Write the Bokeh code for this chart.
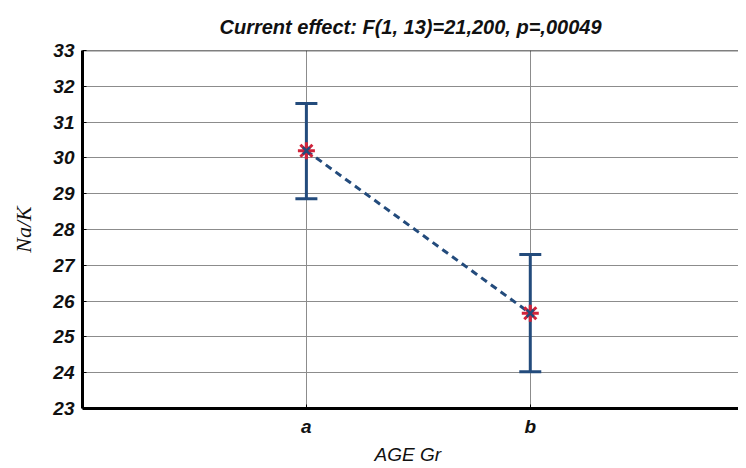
from bokeh.plotting import figure
from bokeh.models import ColumnDataSource, Whisker, TeeHead, FixedTicker, Span
from bokeh.embed import file_html
from bokeh.resources import INLINE

title_text = "Current effect: F(1, 13)=21,200, p=,00049"
groups = ["a", "b"]
means = [30.2, 25.66]
upper = [31.52, 27.3]
lower = [28.86, 24.03]
y_ticks = [23, 24, 25, 26, 27, 28, 29, 30, 31, 32, 33]

xpos = [i + 1 for i in range(len(groups))]
src = ColumnDataSource(dict(x=xpos, m=means, up=upper, lo=lower))

BLUE = "#234b7c"
RED = "#d2233a"

p = figure(width=738, height=467, output_backend="svg", toolbar_location=None,
           x_range=(0, 2.93), y_range=(23, 33),
           min_border_left=82, min_border_right=0, min_border_top=50, min_border_bottom=57)

p.title.text = title_text
p.title.text_font = "Liberation Sans"
p.title.text_font_style = "bold italic"
p.title.text_font_size = "20px"
p.title.align = "center"
p.title.text_color = "#111111"
p.title.standoff = 25

p.outline_line_color = None
p.background_fill_color = "white"
p.border_fill_color = "white"

p.xaxis.ticker = FixedTicker(ticks=xpos)
p.xaxis.major_label_overrides = {x: g for x, g in zip(xpos, groups)}
p.yaxis.ticker = FixedTicker(ticks=y_ticks)

for ax in (p.xaxis[0], p.yaxis[0]):
    ax.axis_line_width = 3
    ax.axis_line_color = "black"
    ax.major_tick_in = 4
    ax.major_tick_out = 0
    ax.minor_tick_line_color = None
    ax.major_tick_line_color = "black"
    ax.major_label_text_font = "Liberation Sans"
    ax.major_label_text_font_style = "bold italic"
    ax.major_label_text_font_size = "19px"
    ax.major_label_text_color = "#111111"

p.yaxis.major_label_standoff = 8
p.xaxis.major_label_standoff = 7

p.xaxis.axis_label = "AGE  Gr"
p.xaxis.axis_label_text_font = "Liberation Sans"
p.xaxis.axis_label_text_font_style = "italic"
p.xaxis.axis_label_text_font_size = "19px"
p.xaxis.axis_label_text_color = "#111111"
p.xaxis.axis_label_standoff = 4

p.yaxis.axis_label = "Na/K"
p.yaxis.axis_label_text_font = "Liberation Serif"
p.yaxis.axis_label_text_font_style = "italic"
p.yaxis.axis_label_text_font_size = "22px"
p.yaxis.axis_label_text_color = "#111111"
p.yaxis.axis_label_standoff = 14

p.xgrid.grid_line_color = "#8c8c8c"
p.ygrid.grid_line_color = "#8c8c8c"
p.xgrid.grid_line_width = 1
p.ygrid.grid_line_width = 1

p.add_layout(Span(location=y_ticks[-1], dimension="width", line_color="black", line_width=1.5))

p.line("x", "m", source=src, line_color=BLUE, line_width=3, line_dash="7 5")

wh = Whisker(source=src, base="x", upper="up", lower="lo", dimension="height",
             line_color=BLUE, line_width=3,
             upper_head=TeeHead(size=22, line_color=BLUE, line_width=3),
             lower_head=TeeHead(size=22, line_color=BLUE, line_width=3))
p.add_layout(wh)

p.scatter("x", "m", source=src, marker="asterisk", size=17, line_color=RED, line_width=3)
p.scatter("x", "m", source=src, marker="x", size=10, line_color=BLUE, line_width=2.5)

open("out.html", "w").write(file_html(p, INLINE))
